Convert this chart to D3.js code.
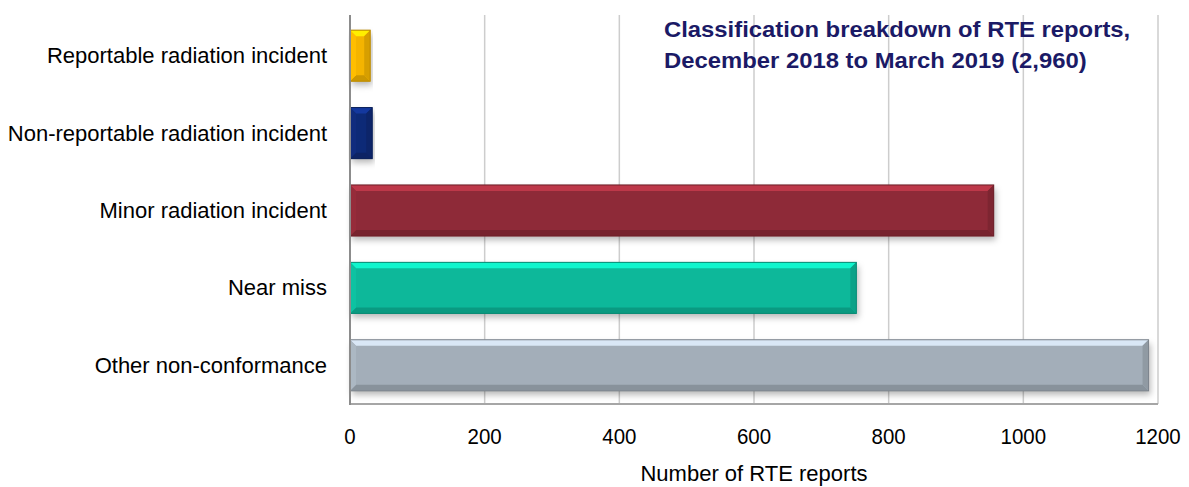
<!DOCTYPE html>
<html lang="en">
<head>
  <meta charset="UTF-8">
  <title>RTE reports</title>
  <style>
    body { margin: 0; background: #fff; }
    text { font-family: Arial, 'Liberation Sans', sans-serif; }
  </style>
</head>
<body>
  <svg id="svg" width="1189" height="487"></svg>

  <script src="https://d3js.org/d3.v7.min.js"></script>
  <script>
    const categories = ['Reportable radiation incident', 'Non-reportable radiation incident',
      'Minor radiation incident', 'Near miss', 'Other non-conformance']
    const values = [30, 33, 956, 752, 1186]
    const colors = ['#F4B400', '#0F2A77', '#8E2A37', '#0CB89A', '#A3AEB9']
    const ticks = [0, 200, 400, 600, 800, 1000, 1200]
    const titleLines = ['Classification breakdown of RTE reports,', 'December 2018 to March 2019 (2,960)']

    const svg = d3.select('#svg')
    const plotLeft = 350, plotRight = 1158, plotTop = 17, plotBottom = 404

    const xScale = d3.scaleLinear().domain([0, 1200]).range([plotLeft, plotRight])
    const yScale = d3.scaleBand().domain(categories).range([plotTop, plotBottom])
      .paddingInner(0.34).paddingOuter(0.17)

    // drop shadow
    const defs = svg.append('defs')
    const f = defs.append('filter').attr('id', 'shadow')
      .attr('x', '-5%').attr('y', '-20%').attr('width', '115%').attr('height', '150%')
    f.append('feDropShadow').attr('dx', 2).attr('dy', 4).attr('stdDeviation', 3)
      .attr('flood-color', '#000').attr('flood-opacity', 0.28)

    // gridlines
    svg.append('g')
      .selectAll('line')
      .data(ticks.slice(1))
      .enter()
      .append('line')
      .attr('x1', d => xScale(d)).attr('x2', d => xScale(d))
      .attr('y1', plotTop - 2).attr('y2', plotBottom)
      .attr('stroke', '#cdcdcd').attr('stroke-width', 1.5)

    // bottom axis line
    svg.append('line')
      .attr('x1', plotLeft).attr('x2', plotRight).attr('y1', plotBottom).attr('y2', plotBottom)
      .attr('stroke', '#a6a6a6').attr('stroke-width', 2)

    // bars with bevel
    const bev = 6
    const bars = svg.append('g')
      .selectAll('g')
      .data(categories)
      .enter()
      .append('g')

    bars.each(function (d, i) {
      const g = d3.select(this)
      const x0 = xScale(0), x1 = xScale(values[i])
      const y0 = yScale(d), h = yScale.bandwidth(), y1 = y0 + h
      const c = d3.color(colors[i])
      const b = Math.min(bev, (x1 - x0) / 2)
      g.append('rect')
        .attr('x', x0).attr('y', y0).attr('width', x1 - x0).attr('height', h)
        .attr('fill', colors[i]).attr('filter', 'url(#shadow)')
      const line = d3.line()
      // top facet
      g.append('path')
        .attr('d', line([[x0, y0], [x1, y0], [x1 - b, y0 + bev], [x0 + b, y0 + bev]]) + 'Z')
        .attr('fill', c.brighter(0.8))
      // bottom facet
      g.append('path')
        .attr('d', line([[x0, y1], [x1, y1], [x1 - b, y1 - bev], [x0 + b, y1 - bev]]) + 'Z')
        .attr('fill', c.darker(0.5))
      // left facet
      g.append('path')
        .attr('d', line([[x0, y0], [x0 + b, y0 + bev], [x0 + b, y1 - bev], [x0, y1]]) + 'Z')
        .attr('fill', c.brighter(0.15))
      // right facet
      g.append('path')
        .attr('d', line([[x1, y0], [x1 - b, y0 + bev], [x1 - b, y1 - bev], [x1, y1]]) + 'Z')
        .attr('fill', c.darker(0.35))
      g.append('rect')
        .attr('x', x0).attr('y', y0).attr('width', x1 - x0).attr('height', h)
        .attr('fill', 'none').attr('stroke', c.darker(0.8)).attr('stroke-width', 1)
    })

    // left axis line
    svg.append('line')
      .attr('x1', plotLeft).attr('x2', plotLeft).attr('y1', plotTop - 2).attr('y2', plotBottom + 1)
      .attr('stroke', '#8c8c8c').attr('stroke-width', 2)

    // x tick labels
    svg.append('g')
      .selectAll('text')
      .data(ticks)
      .enter()
      .append('text')
      .text(d => d)
      .attr('transform', d => `translate(${xScale(d)},444) scale(0.93,1)`)
      .attr('text-anchor', 'middle')
      .style('font-size', '22px')
      .attr('fill', '#000')

    svg.append('text')
      .text('Number of RTE reports')
      .attr('x', xScale(600))
      .attr('y', 481)
      .attr('text-anchor', 'middle')
      .style('font-size', '22px')

    // category labels
    svg.append('g')
      .selectAll('text')
      .data(categories)
      .enter()
      .append('text')
      .text(d => d)
      .attr('x', 327)
      .attr('y', d => yScale(d) + yScale.bandwidth() / 2 + 7.5)
      .attr('text-anchor', 'end')
      .style('font-size', '22px')

    // title
    svg.append('g')
      .selectAll('text')
      .data(titleLines)
      .enter()
      .append('text')
      .text(d => d)
      .attr('transform', (d, i) => `translate(664,${37 + i * 31}) scale(1.06,1)`)
      .style('font-size', '22.5px')
      .style('font-weight', 'bold')
      .attr('fill', '#1B1A66')
  </script>
</body>
</html>
